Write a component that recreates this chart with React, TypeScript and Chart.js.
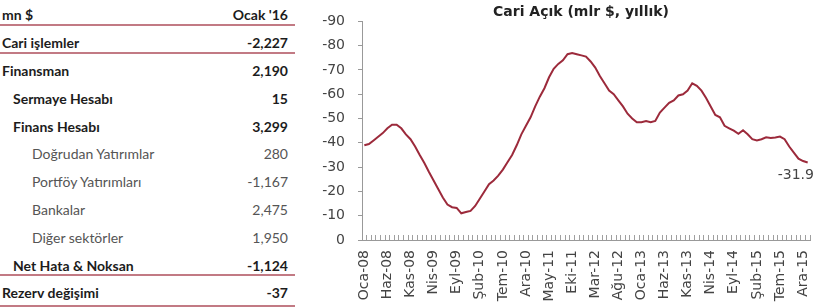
import React, { useEffect, useRef } from "react";
import { Chart, registerables } from "chart.js";
Chart.register(...registerables);

// ---- Table data ----
const tableLabels = [
  "mn $",
  "Cari işlemler",
  "Finansman",
  "Sermaye Hesabı",
  "Finans Hesabı",
  "Doğrudan Yatırımlar",
  "Portföy Yatırımları",
  "Bankalar",
  "Diğer sektörler",
  "Net Hata & Noksan",
  "Rezerv değişimi",
];
const tableValues = ["Ocak '16", "-2,227", "2,190", "15", "3,299", "280", "-1,167", "2,475", "1,950", "-1,124", "-37"];
const tableLevels = [0, 0, 0, 1, 1, 2, 2, 2, 2, 1, 0];

// ---- Chart data ----
const chartTitle = "Cari Açık (mlr $, yıllık)";
const categories = [
  "Oca-08","Şub-08","Mar-08","Nis-08","May-08","Haz-08","Tem-08","Ağu-08","Eyl-08","Eki-08","Kas-08","Ara-08",
  "Oca-09","Şub-09","Mar-09","Nis-09","May-09","Haz-09","Tem-09","Ağu-09","Eyl-09","Eki-09","Kas-09","Ara-09",
  "Oca-10","Şub-10","Mar-10","Nis-10","May-10","Haz-10","Tem-10","Ağu-10","Eyl-10","Eki-10","Kas-10","Ara-10",
  "Oca-11","Şub-11","Mar-11","Nis-11","May-11","Haz-11","Tem-11","Ağu-11","Eyl-11","Eki-11","Kas-11","Ara-11",
  "Oca-12","Şub-12","Mar-12","Nis-12","May-12","Haz-12","Tem-12","Ağu-12","Eyl-12","Eki-12","Kas-12","Ara-12",
  "Oca-13","Şub-13","Mar-13","Nis-13","May-13","Haz-13","Tem-13","Ağu-13","Eyl-13","Eki-13","Kas-13","Ara-13",
  "Oca-14","Şub-14","Mar-14","Nis-14","May-14","Haz-14","Tem-14","Ağu-14","Eyl-14","Eki-14","Kas-14","Ara-14",
  "Oca-15","Şub-15","Mar-15","Nis-15","May-15","Haz-15","Tem-15","Ağu-15","Eyl-15","Eki-15","Kas-15","Ara-15",
  "Oca-16",
];
const cariAcik = [
  -39, -39.5, -41, -42.5, -44, -46, -47.5, -47.5, -46, -43.5, -41.5, -38.5,
  -35, -31.7, -28, -24.5, -21, -17.5, -14.6, -13.5, -13.2, -11, -11.5, -12,
  -14, -17, -20, -23, -24.5, -26.5, -29, -32, -35, -39, -43.5, -47,
  -50.5, -55, -59, -62.5, -67, -70.5, -72.5, -74, -76.5, -77, -76.5, -76,
  -75.5, -73.5, -71, -67.5, -64.5, -61.5, -60, -57.5, -55, -52, -50, -48.5,
  -48.5, -49, -48.5, -49, -52.5, -54.5, -56.5, -57.5, -59.5, -60, -61.5, -64.5,
  -63.5, -61.5, -58.5, -55, -51.5, -50.5, -47, -46, -45, -43.7, -45.2, -43.5,
  -41.5, -41, -41.5, -42.3, -42, -42.2, -42.6, -41.5, -38.5, -36, -33.5, -32.5,
  -31.9,
];
const yTicks = { min: -90, max: 0, step: 10 };
const labelEvery = 5;

const lastValueLabel = {
  id: "lastValueLabel",
  afterDatasetsDraw(chart: any) {
    const meta = chart.getDatasetMeta(0);
    const pts = meta.data;
    if (!pts.length) return;
    const pt = pts[pts.length - 1];
    const v = chart.data.datasets[0].data[pts.length - 1];
    const ctx = chart.ctx;
    ctx.save();
    ctx.font = "14px 'DejaVu Sans'";
    ctx.fillStyle = "#444";
    ctx.textAlign = "left";
    ctx.textBaseline = "middle";
    ctx.fillText(String(v), pt.x - 30, pt.y + 13);
    ctx.restore();
  },
};

const overlayTitle = {
  id: "overlayTitle",
  afterDraw(chart: any) {
    const { ctx, chartArea } = chart;
    ctx.save();
    ctx.font = "bold 14px 'DejaVu Sans'";
    ctx.fillStyle = "#222";
    ctx.textAlign = "center";
    ctx.textBaseline = "middle";
    ctx.fillText(chartTitle, (chartArea.left + chartArea.right) / 2 - 5, 12);
    ctx.restore();
  },
};

function ChartBox() {
  const ref = useRef<HTMLCanvasElement | null>(null);
  useEffect(() => {
    if (!ref.current) return;
    const chart = new Chart(ref.current, {
      type: "line",
      data: {
        labels: categories,
        datasets: [
          {
            data: cariAcik,
            borderColor: "#9c2a3b",
            borderWidth: 2,
            pointRadius: 0,
            tension: 0,
            fill: false,
          },
        ],
      },
      options: {
        animation: false,
        responsive: false,
        devicePixelRatio: 1,
        layout: { padding: { left: 0, right: 5, top: 13, bottom: 0 } },
        plugins: {
          legend: { display: false },
          tooltip: { enabled: false },
          title: { display: false },
        },
        scales: {
          x: {
            type: "category",
            offset: true,
            grid: { drawOnChartArea: false, offset: true, tickLength: -5, color: "#a0a0a0" },
            border: { color: "#999", width: 1 },
            ticks: {
              autoSkip: false,
              maxRotation: 90,
              minRotation: 90,
              padding: 15,
              color: "#444",
              font: { family: "DejaVu Sans", size: 14 },
              callback: (_v: any, i: number) => (i % labelEvery === 0 ? categories[i] : ""),
            },
            afterFit: (s: any) => {
              s.height = 68;
              s.paddingLeft = 0;
              s.paddingRight = 0;
            },
          },
          y: {
            reverse: true,
            min: yTicks.min,
            max: yTicks.max,
            grid: { drawOnChartArea: false, tickLength: 4, color: "#999" },
            border: { color: "#999", width: 1 },
            ticks: {
              stepSize: yTicks.step,
              padding: 13,
              color: "#444",
              font: { family: "DejaVu Sans", size: 14 },
            },
            afterFit: (s: any) => {
              s.width = 62;
            },
          },
        },
      },
      plugins: [lastValueLabel, overlayTitle],
    });
    return () => chart.destroy();
  }, []);
  return (
    <canvas
      ref={ref}
      width={515}
      height={308}
      style={{ position: "absolute", left: 300, top: 0, width: 515, height: 308 }}
    />
  );
}

export default function App() {
  const rowH = 27.8;
  const ruleY = [25, 53, 275, 306];
  return (
    <div
      style={{
        position: "absolute",
        left: 0,
        top: 0,
        width: 815,
        height: 308,
        background: "#fff",
        overflow: "hidden",
        fontFamily: "Lato, 'Open Sans', sans-serif",
      }}
    >
      <div style={{ position: "absolute", left: 0, top: 1, width: 296 }}>
        {tableLabels.map((lab, i) => {
          const lvl = tableLevels[i];
          const bold = lvl < 2;
          return (
            <div
              key={i}
              style={{
                position: "absolute",
                left: 0,
                top: i * rowH,
                width: 296,
                height: rowH,
                display: "flex",
                alignItems: "center",
                justifyContent: "space-between",
                fontSize: 14,
                fontWeight: bold ? 700 : 400,
                color: bold ? "#1c1c1c" : "#555",
              }}
            >
              <span style={{ paddingLeft: lvl === 0 ? 2 : lvl === 1 ? 13 : 32, whiteSpace: "nowrap" }}>{lab}</span>
              <span style={{ paddingRight: 8, whiteSpace: "nowrap" }}>{tableValues[i]}</span>
            </div>
          );
        })}
      </div>
      {ruleY.map((y, i) => (
        <div
          key={i}
          style={{ position: "absolute", left: 0, top: y - 1, width: 295, height: 2, background: "#c27a84" }}
        />
      ))}
      <ChartBox />
    </div>
  );
}
